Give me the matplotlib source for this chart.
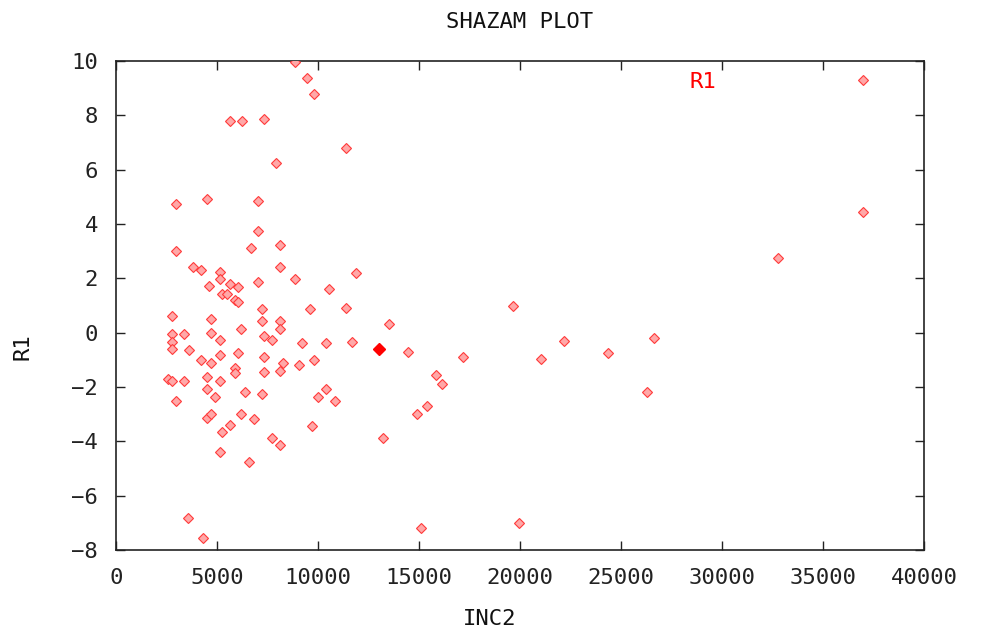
import matplotlib
matplotlib.use("Agg")
import matplotlib.pyplot as plt

# values (INC2 vs R1)
inc2 = [8860, 9440, 9800, 5640, 6220, 7330, 11400, 7900, 2990, 4500,
        7050, 7050, 6660, 8100, 2990, 3830, 4210, 5150, 5150, 8100,
        8860, 11880, 4590, 5640, 6020, 7050, 5250, 5480, 10530, 5900,
        6020, 7240, 9600, 11400, 2790, 4690, 7240, 8100, 8100, 6200,
        2790, 3370, 4690, 5150, 2790, 2790, 3630, 7330, 7720, 9220,
        10380, 11700, 5150, 6020, 4210, 4690, 7330, 8270, 8100, 9040,
        9800, 5900, 5900, 7330, 2590, 2790, 3370, 4490, 5150, 4490,
        4890, 2990, 6390, 7240, 10380, 9980, 10860, 4490, 4690, 6200,
        6850, 5640, 5260, 9700, 7720, 8100, 5150, 6580, 3550, 4300,
        19630, 13500, 14440, 17190, 21050, 22190, 24370, 26630, 26270, 15850,
        16140, 15390, 14910, 13200, 15080, 19930, 36960, 32780]
r1 = [9.95, 9.36, 8.80, 7.80, 7.80, 7.87, 6.80, 6.23, 4.74, 4.92,
      4.86, 3.73, 3.12, 3.24, 3.00, 2.42, 2.30, 2.25, 1.98, 2.42,
      1.99, 2.19, 1.73, 1.80, 1.68, 1.87, 1.42, 1.42, 1.62, 1.20,
      1.12, 0.86, 0.86, 0.90, 0.62, 0.49, 0.43, 0.43, 0.12, 0.12,
      -0.06, -0.06, 0.00, -0.27, -0.33, -0.59, -0.64, -0.12, -0.27, -0.39,
      -0.39, -0.33, -0.82, -0.76, -1.00, -1.13, -0.88, -1.13, -1.40, -1.19,
      -1.00, -1.31, -1.47, -1.44, -1.70, -1.77, -1.77, -1.64, -1.77, -2.07,
      -2.38, -2.51, -2.19, -2.27, -2.07, -2.38, -2.51, -3.15, -3.00, -3.00,
      -3.19, -3.40, -3.64, -3.43, -3.86, -4.13, -4.39, -4.77, -6.83, -7.57,
      0.98, 0.31, -0.70, -0.88, -0.96, -0.32, -0.76, -0.20, -2.19, -1.57,
      -1.89, -2.70, -3.00, -3.89, -7.20, -7.01, 4.43, 2.74]

# the one solid point (overlapping samples)
bold_inc2 = [13030]
bold_r1 = [-0.60]

xticks = [0, 5000, 10000, 15000, 20000, 25000, 30000, 35000, 40000]
yticks = [-8, -6, -4, -2, 0, 2, 4, 6, 8, 10]

plt.rcParams['font.family'] = ['DejaVu Sans Mono']
fs = 16

fig = plt.figure(figsize=(9.81, 6.33), dpi=100)
ax = fig.add_axes([116 / 981, 83 / 633, 808 / 981, 489 / 633])

ax.plot(inc2, r1, 'D', ms=5, mfc='#ffa8a8', mec='#ff3a3a', mew=0.8,
        label='R1', zorder=3)
ax.plot(bold_inc2, bold_r1, 'D', ms=6, mfc='red', mec='red', mew=1, zorder=4)

ax.set_xlim(0, 40000)
ax.set_ylim(-8, 10)
ax.set_xticks(xticks)
ax.set_yticks(yticks)
ax.tick_params(direction='in', length=6.5, width=1, top=True, right=True,
               labelsize=fs, pad=13, colors='#222222')
for s in ax.spines.values():
    s.set_linewidth(1.2)
    s.set_color('#222222')

ax.set_title('SHAZAM PLOT', fontsize=fs, pad=24, color='#111111')
ax.set_xlabel('INC2', fontsize=fs, color='#111111')
ax.xaxis.set_label_coords((490 - 116) / 808, -0.12)
ax.set_ylabel('R1', fontsize=fs, color='#111111')
ax.yaxis.set_label_coords((33 - 116) / 808, (550 - 347) / 489)

ax.legend(loc='center right', bbox_to_anchor=((885 - 116) / 808, (550 - 82) / 489),
          frameon=False, markerfirst=False, handlelength=2, handletextpad=5.6,
          borderpad=0, borderaxespad=0, labelcolor='red', fontsize=fs)

fig.savefig('out.png', dpi=100)
